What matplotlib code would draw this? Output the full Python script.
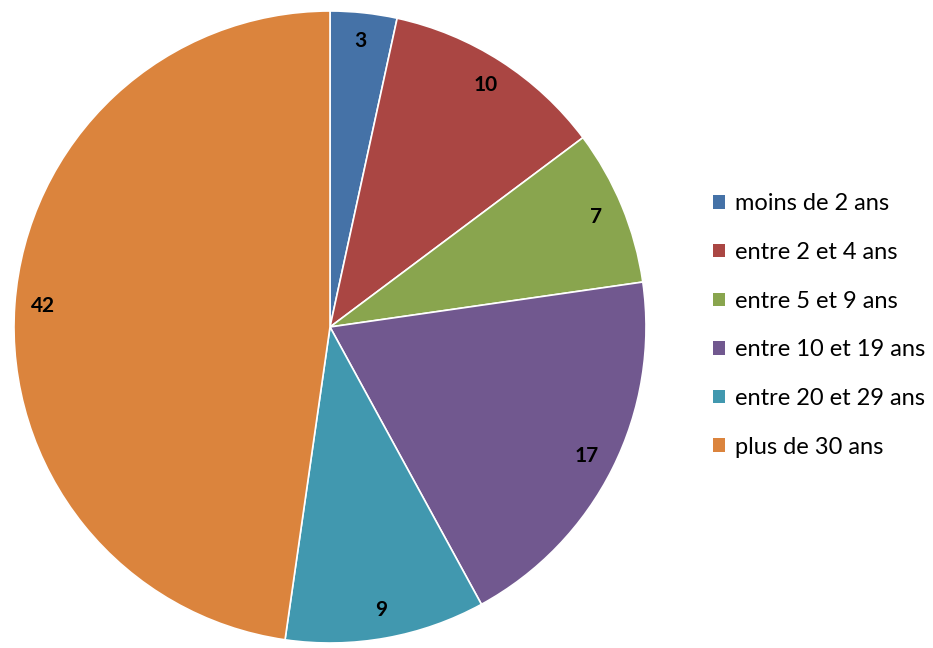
import matplotlib.pyplot as plt
from matplotlib.patches import Patch

categories = ["moins de 2 ans", "entre 2 et 4 ans", "entre 5 et 9 ans",
              "entre 10 et 19 ans", "entre 20 et 29 ans", "plus de 30 ans"]
values = [3, 10, 7, 17, 9, 42]
colors = ["#4572A7", "#AA4643", "#89A54E", "#71588F", "#4198AF", "#DB843D"]

plt.rcParams['font.family'] = ['Lato', 'DejaVu Sans']

fig = plt.figure(figsize=(9.33, 6.48), dpi=100)
# square axes so the pie keeps its centre and radius in pixel terms
ax = fig.add_axes([14 / 933, 5 / 648, 632 / 933, 632 / 648])

wedges, texts, autotexts = ax.pie(
    values, colors=colors, startangle=90, counterclock=False,
    autopct=lambda p: "%d" % round(p * sum(values) / 100),
    pctdistance=0.91,
    wedgeprops=dict(edgecolor="white", linewidth=1.2),
    textprops=dict(fontsize=15, fontweight="bold", color="black"),
)
ax.set_xlim(-1, 1)
ax.set_ylim(-1, 1)
ax.set_aspect("equal")

handles = [Patch(facecolor=c, edgecolor="none") for c in colors]
fig.legend(handles, categories, loc="upper left",
           bbox_to_anchor=(704 / 933, 1 - 184 / 648),
           frameon=False, fontsize=17, handlelength=0.5, handleheight=0.5,
           handletextpad=0.4, labelspacing=1.17, borderaxespad=0)

fig.savefig("out.png", dpi=100)
